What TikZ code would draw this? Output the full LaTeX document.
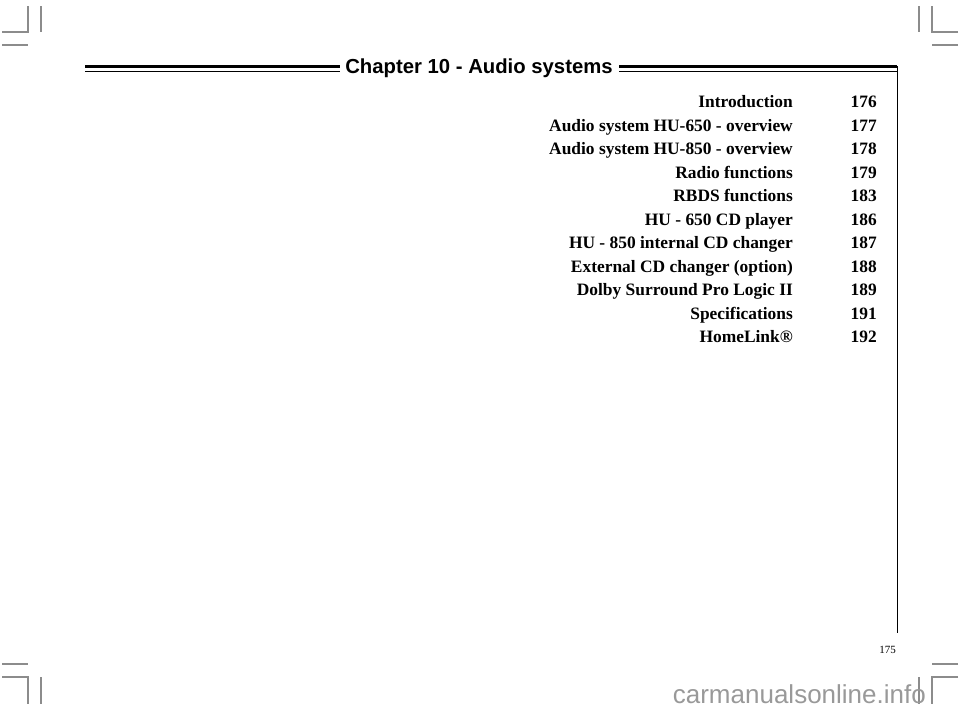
\documentclass[tikz,border=0pt]{standalone}
\usepackage{fontspec}
\setmainfont{Liberation Serif}
\newfontfamily\headfont{Liberation Sans}
\begin{document}
\begin{tikzpicture}[x=1pt,y=-1pt,
  crop/.style={draw=black!45,line width=1.2pt},
  toc/.style={font=\fontsize{17.4}{17}\selectfont\bfseries,anchor=base east,inner sep=0pt}]
\useasboundingbox (0,0) rectangle (960,710);
% crop marks
\draw[crop] (2,32)--(28,32)--(28,6);
\draw[crop] (41,6)--(41,32);
\draw[crop] (2,45)--(28,45);
\draw[crop] (958,32)--(932,32)--(932,6);
\draw[crop] (919,6)--(919,32);
\draw[crop] (958,45)--(932,45);
\draw[crop] (2,677)--(28,677)--(28,704);
\draw[crop] (41,677)--(41,704);
\draw[crop] (2,664)--(28,664);
\draw[crop] (958,677)--(932,677)--(932,704);
\draw[crop] (919,677)--(919,704);
\draw[crop] (958,664)--(932,664);
% header
\node[font=\headfont\bfseries\fontsize{20.3}{20}\selectfont,inner sep=0pt] (title) at (479,68) {Chapter 10 - Audio systems};
\draw[line width=2.2pt] (85,66.5)--(340,66.5) (619,66.5)--(897,66.5);
\draw[line width=0.8pt] (85,71)--(340,71) (619,71)--(897,71);
\draw[line width=0.8pt] (897,66)--(897,633);
\node[font=\fontsize{11}{11}\selectfont,anchor=base east,inner sep=0pt] (pg) at (896,653) {175};
% toc
\foreach \t/\n [count=\i from 0] in {Introduction/176,Audio system HU-650 - overview/177,Audio system HU-850 - overview/178,Radio functions/179,RBDS functions/183,HU - 650 CD player/186,HU - 850 internal CD changer/187,External CD changer (option)/188,Dolby Surround Pro Logic II/189,Specifications/191,HomeLink®/192}{
  \node[toc] (t\i) at (793,{107.5+23.5*\i}) {\t};
  \node[toc] (n\i) at (877,{107.5+23.5*\i}) {\n};
}
% watermark
\node[font=\headfont\fontsize{26}{26}\selectfont,text=black!40,anchor=base east,inner sep=0pt] (wm) at (926,703) {carmanualsonline.info};
\end{tikzpicture}
\end{document}
